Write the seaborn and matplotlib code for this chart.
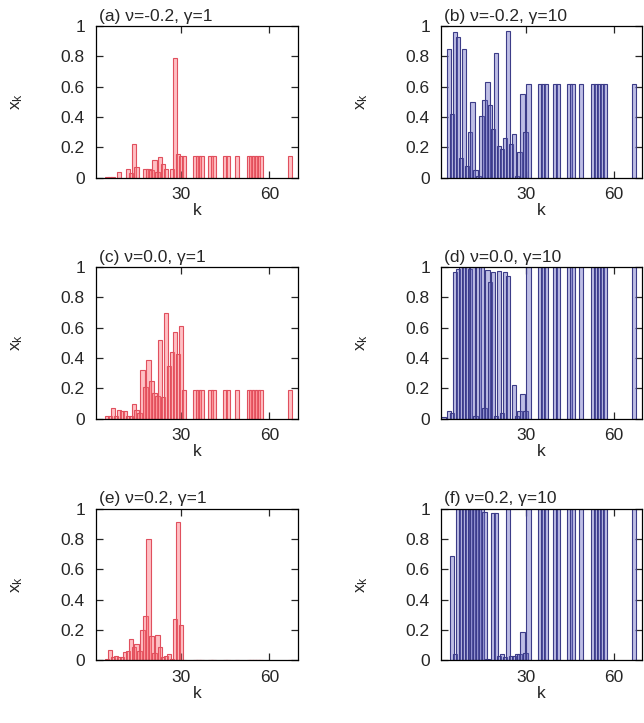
import matplotlib
matplotlib.use("Agg")
import matplotlib.pyplot as plt
import numpy as np
import pandas as pd
import seaborn as sns

# ---------------- data ----------------
K_DENSE = list(range(2, 31))
K_SPARSE = [31, 35, 36, 37, 40, 41, 45, 46, 49, 53, 54, 55, 56, 57, 67]

# k = 2 .. 30
XA_DENSE = [0, 0, 0, 0.005, 0.005, 0.005, 0, 0.04, 0, 0, 0.06, 0.03, 0.22, 0.07,
            0, 0, 0.06, 0.055, 0.05, 0.12, 0.04, 0.135, 0.09, 0.06, 0, 0.06, 0.79, 0.155, 0.14]
XB_DENSE = [0, 0, 0.85, 0.42, 0.96, 0.93, 0.13, 0.85, 0.08, 0.30, 0.50, 0.05, 0.01, 0.41,
            0.51, 0.63, 0.48, 0.32, 0.82, 0.21, 0.19, 0.26, 0.97, 0.22, 0.29, 0.01, 0.17, 0.55, 0.30]
XC_DENSE = [0, 0, 0, 0.02, 0.02, 0.07, 0.02, 0.06, 0.05, 0.05, 0.02, 0.02, 0.10, 0.06,
            0.04, 0.32, 0.21, 0.39, 0.25, 0.17, 0.15, 0.52, 0.14, 0.70, 0.35, 0.44, 0.57, 0.43, 0.61]
XD_DENSE = [0.01, 0, 0.05, 0.04, 0.97, 0.99, 1.0, 1.0, 1.0, 0.99, 1.0, 0.02, 1.0, 1.0,
            0.07, 0.98, 0.90, 0.97, 0.02, 0.975, 0.04, 0.97, 0.94, 0, 0.22, 0.02, 0.05, 0.16, 0.05]
XE_DENSE = [0, 0, 0, 0.01, 0.065, 0.02, 0.03, 0.025, 0.02, 0.055, 0.06, 0.14, 0.09, 0.11,
            0.06, 0.20, 0.29, 0.80, 0.16, 0.05, 0.165, 0.09, 0.02, 0.03, 0.04, 0.01, 0.27, 0.91, 0.23]
XF_DENSE = [0, 0, 0, 0.69, 0.04, 1.0, 1.0, 1.0, 1.0, 1.0, 1.0, 1.0, 1.0, 1.0,
            0.98, 0.01, 0.005, 0.97, 0.975, 0.03, 0.04, 0.02, 1.0, 0.03, 0.03, 0.04, 0.04, 0.19, 0.05]

# isolated k values
XA_SPARSE = [0.14, 0.14, 0.14, 0.14, 0.14, 0.14, 0.14, 0.14, 0.14, 0.14, 0.14, 0.14, 0.14, 0.14, 0.14]
XB_SPARSE = [0.62, 0.62, 0.62, 0.62, 0.62, 0.62, 0.62, 0.62, 0.62, 0.62, 0.62, 0.62, 0.62, 0.62, 0.62]
XC_SPARSE = [0.19, 0.19, 0.19, 0.19, 0.19, 0.19, 0.19, 0.19, 0.19, 0.19, 0.19, 0.19, 0.19, 0.19, 0.19]
XD_SPARSE = [1.0, 1.0, 1.0, 1.0, 1.0, 1.0, 1.0, 1.0, 1.0, 1.0, 1.0, 1.0, 1.0, 1.0, 1.0]
XE_SPARSE = [0.005, 0.005, 0.005, 0.005, 0.005, 0.005, 0.005, 0.005, 0.005, 0.005, 0.005, 0.005, 0.005, 0.005, 0.005]
XF_SPARSE = [1.0, 1.0, 1.0, 1.0, 1.0, 1.0, 1.0, 1.0, 1.0, 1.0, 1.0, 1.0, 1.0, 1.0, 1.0]

TITLES = ["(a) ν=-0.2, γ=1", "(b) ν=-0.2, γ=10",
          "(c) ν=0.0, γ=1", "(d) ν=0.0, γ=10",
          "(e) ν=0.2, γ=1", "(f) ν=0.2, γ=10"]

# ---------------- style ----------------
RED_FACE = (1.0, 0.42, 0.45, 0.42)
RED_EDGE = "#e0505e"
BLUE_FACE = (0.40, 0.40, 0.76, 0.42)
BLUE_EDGE = "#3c3c88"
BAR_W = 1.5   # in k units
FS = 12.5

sns.set_style("ticks")
plt.rcParams.update({
    "font.family": ["Liberation Sans", "DejaVu Sans"],
    "font.size": FS,
    "axes.linewidth": 0.9,
    "axes.edgecolor": "black",
    "xtick.direction": "in",
    "ytick.direction": "in",
    "xtick.major.size": 5,
    "ytick.major.size": 5,
    "xtick.major.width": 0.9,
    "ytick.major.width": 0.9,
    "mathtext.default": "regular",
})

W, H = 644, 723
LEFT_X = [96 / W, 441 / W]
AX_W = [202 / W, 201 / W]
ROW_BOTTOM = [1 - 177.7 / H, 1 - 418.7 / H, 1 - 660.3 / H]
AX_H = 151.5 / H


def draw_panel(ax, dense, sparse, face, edge, title):
    df = pd.DataFrame({"k": K_DENSE + K_SPARSE, "x": dense + sparse})
    df = df[df["x"] > 0]
    sns.barplot(data=df, x="k", y="x", native_scale=True,
                errorbar=None, color=face[:3], saturation=1, ax=ax)
    # widen the boxes so neighbouring bars overlap like in the original
    for p in ax.patches:
        cx = p.get_x() + p.get_width() / 2
        p.set_x(cx - BAR_W / 2)
        p.set_width(BAR_W)
        p.set_facecolor(face)
        p.set_edgecolor(edge)
        p.set_linewidth(0.8)

    ax.set_xlim(1.2, 69.7)
    ax.set_ylim(0, 1)
    ax.set_xticks([30, 60])
    ax.set_yticks([0, 0.2, 0.4, 0.6, 0.8, 1.0])
    ax.set_yticklabels(["0", "0.2", "0.4", "0.6", "0.8", "1"])
    ax.tick_params(axis="both", top=True, right=True, labelsize=FS)
    ax.tick_params(axis="y", pad=8)
    ax.tick_params(axis="x", pad=7)
    for s in ax.spines.values():
        s.set_visible(True)

    ax.set_title(title, loc="left", pad=4, fontsize=FS, x=0.015)
    ax.set_xlabel("k", fontsize=FS)
    ax.xaxis.set_label_coords(0.5, -0.17)
    ax.set_ylabel("x$_k$", rotation=90, fontsize=FS, va="center", ha="center")
    ax.yaxis.set_label_coords(-0.39, 0.5)


fig = plt.figure(figsize=(W / 100, H / 100), dpi=100)

panels = [
    (XA_DENSE, XA_SPARSE), (XB_DENSE, XB_SPARSE),
    (XC_DENSE, XC_SPARSE), (XD_DENSE, XD_SPARSE),
    (XE_DENSE, XE_SPARSE), (XF_DENSE, XF_SPARSE),
]

for i, (dense, sparse) in enumerate(panels):
    row, col = divmod(i, 2)
    ax = fig.add_axes([LEFT_X[col], ROW_BOTTOM[row], AX_W[col], AX_H])
    if col == 0:
        draw_panel(ax, dense, sparse, RED_FACE, RED_EDGE, TITLES[i])
    else:
        draw_panel(ax, dense, sparse, BLUE_FACE, BLUE_EDGE, TITLES[i])

fig.savefig("out.png", dpi=100, facecolor="white")
